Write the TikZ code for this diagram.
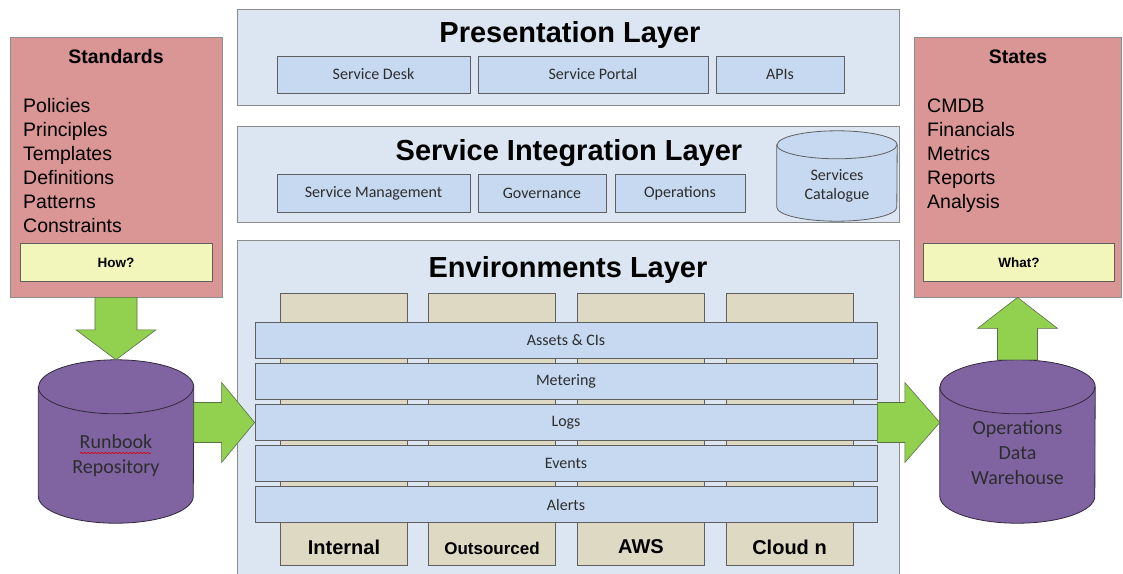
\documentclass[tikz,border=0pt]{standalone}
\usepackage{fontspec}
\setmainfont{Liberation Sans}
\newfontfamily\calibfont{Carlito}
\usetikzlibrary{shapes,calc,decorations.pathmorphing}

\definecolor{layerbg}{RGB}{220,230,242}
\definecolor{layerline}{RGB}{140,140,140}
\definecolor{boxblue}{RGB}{198,217,241}
\definecolor{boxline}{RGB}{95,95,95}
\definecolor{envbeige}{RGB}{221,217,195}
\definecolor{sidered}{RGB}{217,150,148}
\definecolor{qyellow}{RGB}{242,246,186}
\definecolor{storepurple}{RGB}{128,100,162}
\definecolor{storeline}{RGB}{50,40,60}
\definecolor{arrowgreen}{RGB}{146,208,80}
\definecolor{arrowline}{RGB}{90,110,70}
\definecolor{textgray}{RGB}{45,45,45}

\begin{document}
\begin{tikzpicture}[x=1pt,y=-1pt,
  layer/.style={shape=rectangle,draw=layerline,fill=layerbg,line width=0.8pt,minimum width=662},
  layertitle/.style={font=\bfseries\fontsize{29}{29}\selectfont},
  subbox/.style={shape=rectangle,draw=boxline,fill=boxblue,line width=0.8pt,minimum height=37,font=\calibfont\fontsize{16}{16}\selectfont,text=textgray},
  band/.style={subbox,minimum width=622,minimum height=36},
  envbox/.style={shape=rectangle,draw=boxline,fill=envbeige,line width=0.8pt,minimum width=127,minimum height=272},
  sidebox/.style={shape=rectangle,draw=layerline,fill=sidered,line width=0.8pt,minimum height=260},
  sidetitle/.style={font=\bfseries\fontsize{19.5}{19.5}\selectfont},
  sideitem/.style={anchor=base west,inner sep=0pt,font=\fontsize{19.5}{19.5}\selectfont},
  question/.style={shape=rectangle,draw=boxline,fill=qyellow,line width=0.8pt,minimum width=192,minimum height=38,font=\bfseries\fontsize{13.5}{13.5}\selectfont},
  storearea/.style={shape=rectangle,inner sep=0pt},
  store/.style={draw=storeline,fill=storepurple,line width=0.8pt},
  storetext/.style={align=center,font=\calibfont\fontsize{20}{25}\selectfont,text=textgray},
  fatarrow/.style={draw=arrowline,fill=arrowgreen,line width=0.6pt,line join=miter}]

\fill[white] (0,0) rectangle (1123,573);
\useasboundingbox (0,0) rectangle (1123,573);

% presentation layer
\node[layer,minimum height=96] (pres) at (568,57) {};
\node[layertitle] (prestitle) at (570,35) {Presentation Layer};
\node[subbox,minimum width=193] (desk) at (373.5,74.5) {Service Desk};
\node[subbox,minimum width=230] (portal) at (593,74.5) {Service Portal};
\node[subbox,minimum width=128] (apis) at (780,74.5) {APIs};

% service integration layer
\node[layer,minimum height=96] (sil) at (568,174) {};
\node[layertitle] (siltitle) at (569,153) {Service Integration Layer};
\node[subbox,minimum width=193,minimum height=38] (mgmt) at (373.5,193.5) {Service Management};
\node[subbox,minimum width=128,minimum height=38] (gov) at (542,193.5) {Governance};
\node[subbox,minimum width=130,minimum height=38] (ops) at (680,193.5) {Operations};
\node[storearea,minimum width=120,minimum height=90] (catalogue) at (837,176) {};
\path[store,fill=boxblue,draw=boxline] ($(catalogue.north west)+(0,14)$) -- ($(catalogue.south west)+(0,-14)$) arc[start angle=180,end angle=0,x radius=60,y radius=14] -- ($(catalogue.north east)+(0,14)$) arc[start angle=0,end angle=-180,x radius=60,y radius=14] -- cycle;
\draw[store,fill=none,draw=boxline] ($(catalogue.north west)+(0,14)$) arc[start angle=180,end angle=0,x radius=60,y radius=14];
\node[storetext,font=\calibfont\fontsize{16}{19}\selectfont] (catalogue-lbl) at (837,185.5) {Services\\Catalogue};

% environments layer
\node[layer,minimum height=340] (env) at (568,410) {};
\node[layertitle] (envtitle) at (568,270) {Environments Layer};
\foreach \x/\name in {344/internal,492/outsourced,641/aws,789.5/cloudn}
  \node[envbox] (\name) at (\x,429) {};
\node[font=\bfseries\fontsize{20}{20}\selectfont] (internal-lbl) at (344,547) {Internal};
\node[font=\bfseries\fontsize{17}{17}\selectfont] (outsourced-lbl) at (492,548) {Outsourced};
\node[font=\bfseries\fontsize{20}{20}\selectfont] (aws-lbl) at (641,547) {AWS};
\node[font=\bfseries\fontsize{20}{20}\selectfont] (cloudn-lbl) at (789.5,547) {Cloud n};
\foreach \name/\lbl [count=\i from 0] in {assets/Assets \& CIs,metering/Metering,logs/Logs,events/Events,alerts/Alerts}
  \node[band] (\name) at (566,340.5+41*\i) {\lbl};

% standards
\node[sidebox,minimum width=212] (std) at (116,167) {};
\node[sidetitle] (stdtitle) at (116,57) {Standards};
\foreach \t [count=\i] in {Policies,Principles,Templates,Definitions,Patterns,Constraints}
  \node[sideitem] (std\i) at (23,88+24*\i) {\t};
\node[question] (how) at (116,262.5) {How?};

% states
\node[sidebox,minimum width=207] (states) at (1017.5,167) {};
\node[sidetitle] (statestitle) at (1018,57) {States};
\foreach \t [count=\i] in {CMDB,Financials,Metrics,Reports,Analysis}
  \node[sideitem] (states\i) at (927,88+24*\i) {\t};
\node[question,minimum width=191] (what) at (1019,262.5) {What?};

% stores
\node[storearea,minimum width=155,minimum height=163] (runbook) at (116,441.5) {};
\path[store] ($(runbook.north west)+(0,27)$) -- ($(runbook.south west)+(0,-27)$) arc[start angle=180,end angle=0,x radius=77.5,y radius=27] -- ($(runbook.north east)+(0,27)$) arc[start angle=0,end angle=-180,x radius=77.5,y radius=27] -- cycle;
\draw[store,fill=none] ($(runbook.north west)+(0,27)$) arc[start angle=180,end angle=0,x radius=77.5,y radius=27];
\node[storetext] (runbook-lbl) at (116,455.5) {Runbook\\Repository};
\draw[red!85!black,line width=0.6pt,decorate,decoration={snake,amplitude=0.7pt,segment length=3.5pt}] (80,453) -- (151,453);

\node[storearea,minimum width=155,minimum height=163] (odw) at (1017.5,441.5) {};
\path[store] ($(odw.north west)+(0,27)$) -- ($(odw.south west)+(0,-27)$) arc[start angle=180,end angle=0,x radius=77.5,y radius=27] -- ($(odw.north east)+(0,27)$) arc[start angle=0,end angle=-180,x radius=77.5,y radius=27] -- cycle;
\draw[store,fill=none] ($(odw.north west)+(0,27)$) arc[start angle=180,end angle=0,x radius=77.5,y radius=27];
\node[storetext] (odw-lbl) at (1017.5,453) {Operations\\Data\\Warehouse};

% arrows
\path[fatarrow] ($(std.south)+(-21,0)$) -- ($(runbook.north)+(-21,-30)$) -- ($(runbook.north)+(-40,-30)$) -- (runbook.north) -- ($(runbook.north)+(40,-30)$) -- ($(runbook.north)+(21,-30)$) -- ($(std.south)+(21,0)$) -- cycle;
\coordinate (rbout) at (runbook.east |- logs.west);
\path[fatarrow] ($(rbout)+(0,-20)$) -- ($(logs.west)+(-33,-20)$) -- ($(logs.west)+(-33,-40)$) -- (logs.west) -- ($(logs.west)+(-33,40)$) -- ($(logs.west)+(-33,20)$) -- ($(rbout)+(0,20)$) -- cycle;
\coordinate (odwin) at (odw.west |- logs.east);
\path[fatarrow] ($(logs.east)+(0,-20)$) -- ($(odwin)+(-35,-20)$) -- ($(odwin)+(-35,-40)$) -- (odwin) -- ($(odwin)+(-35,40)$) -- ($(odwin)+(-35,20)$) -- ($(logs.east)+(0,20)$) -- cycle;
\path[fatarrow] ($(odw.north)+(-20,0)$) -- ($(states.south)+(-20,31)$) -- ($(states.south)+(-40,31)$) -- (states.south) -- ($(states.south)+(40,31)$) -- ($(states.south)+(20,31)$) -- ($(odw.north)+(20,0)$) -- cycle;
\end{tikzpicture}
\end{document}
